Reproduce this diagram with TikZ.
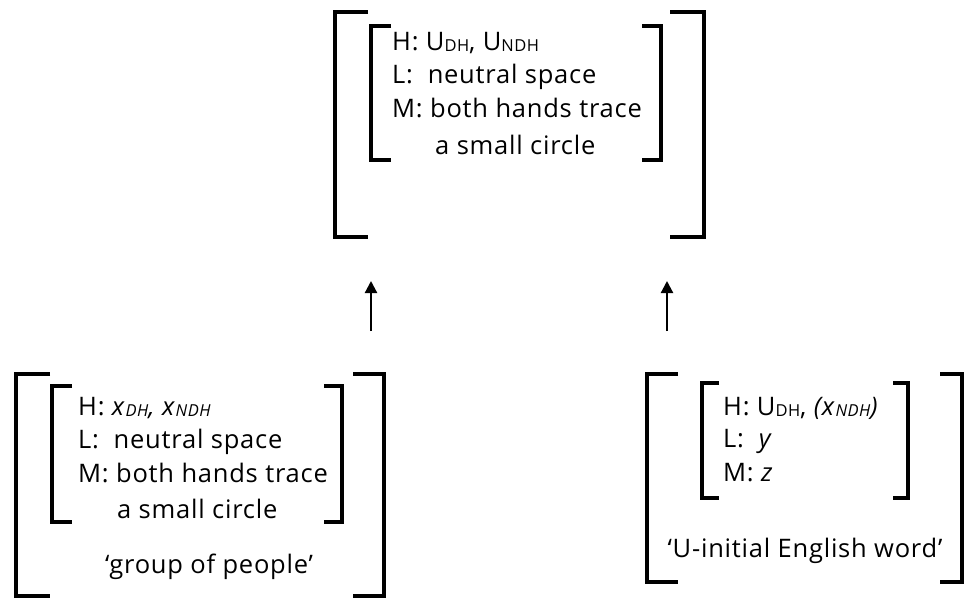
\documentclass[tikz,border=0pt]{standalone}
\usepackage{fontspec}
\setmainfont[LetterSpace=3]{Open Sans}
\usetikzlibrary{arrows.meta}
\newcommand\smsub[1]{\raisebox{-1.5pt}{\fontsize{16.5}{16.5}\selectfont #1}}
\newcommand\itsub[1]{\raisebox{-1.5pt}{\fontsize{16.5}{16.5}\selectfont\itshape #1}}
\tikzset{
  brk/.style={line width=4.5pt},
  txt/.style={anchor=base west, inner sep=0pt, font=\fontsize{25.5}{30}\selectfont},
  ctxt/.style={anchor=base, inner sep=0pt, font=\fontsize{25.5}{30}\selectfont},
  up/.style={line width=2.2pt, -{Triangle[width=12pt,length=12pt]}}
}
\begin{document}
\begin{tikzpicture}[x=1pt,y=-1pt]
\useasboundingbox (0,0) rectangle (964,600);
% ---------- top group ----------
\draw[brk] (368,12) -| (335,237) -- (368,237);
\draw[brk] (670,12) -| (704,237) -- (670,237);
\draw[brk] (391,26) -| (371,160) -- (391,160);
\draw[brk] (642,26) -| (661,160) -- (642,160);
\node[txt] (tH) at (392,50) {H: U\smsub{DH}, U\smsub{NDH}};
\node[txt] (tL) at (392,83) {L:~~neutral space};
\node[txt] (tM) at (392,117) {M: both hands trace};
\node[txt] (tC) at (435,154) {a small circle};
% ---------- bottom left group ----------
\draw[brk] (50,374) -| (16,596) -- (50,596);
\draw[brk] (353,374) -| (384,596) -- (353,596);
\draw[brk] (72,386) -| (52,522) -- (72,522);
\draw[brk] (324,386) -| (342,522) -- (324,522);
\node[txt] (lH) at (78,415) {H: \textit{x}\itsub{DH}\textit{, x}\itsub{NDH}};
\node[txt] (lL) at (78,448) {L:~~neutral space};
\node[txt] (lM) at (78,482) {M: both hands trace};
\node[txt] (lC) at (117,518) {a small circle};
\node[ctxt] (lG) at (209,573) {‘group of people’};
% ---------- bottom right group ----------
\draw[brk] (678,374) -| (647,582) -- (678,582);
\draw[brk] (940,374) -| (962,582) -- (940,582);
\draw[brk] (719,383) -| (702,498) -- (719,498);
\draw[brk] (893,383) -| (908,498) -- (893,498);
\node[txt] (rH) at (723,415) {H: U\smsub{DH}, \textit{(x}\itsub{NDH}\textit{)}};
\node[txt] (rL) at (723,447) {L:~~\textit{y}};
\node[txt] (rM) at (723,481) {M: \textit{z}};
\node[ctxt] (rG) at (805,557) {‘U-initial English word’};
% ---------- arrows ----------
\coordinate (a1s) at (371,331);
\coordinate (a1e) at (371,281);
\coordinate (a2s) at (667,331);
\coordinate (a2e) at (667,281);
\draw[up] (a1s) -- (a1e);
\draw[up] (a2s) -- (a2e);
\end{tikzpicture}
\end{document}
